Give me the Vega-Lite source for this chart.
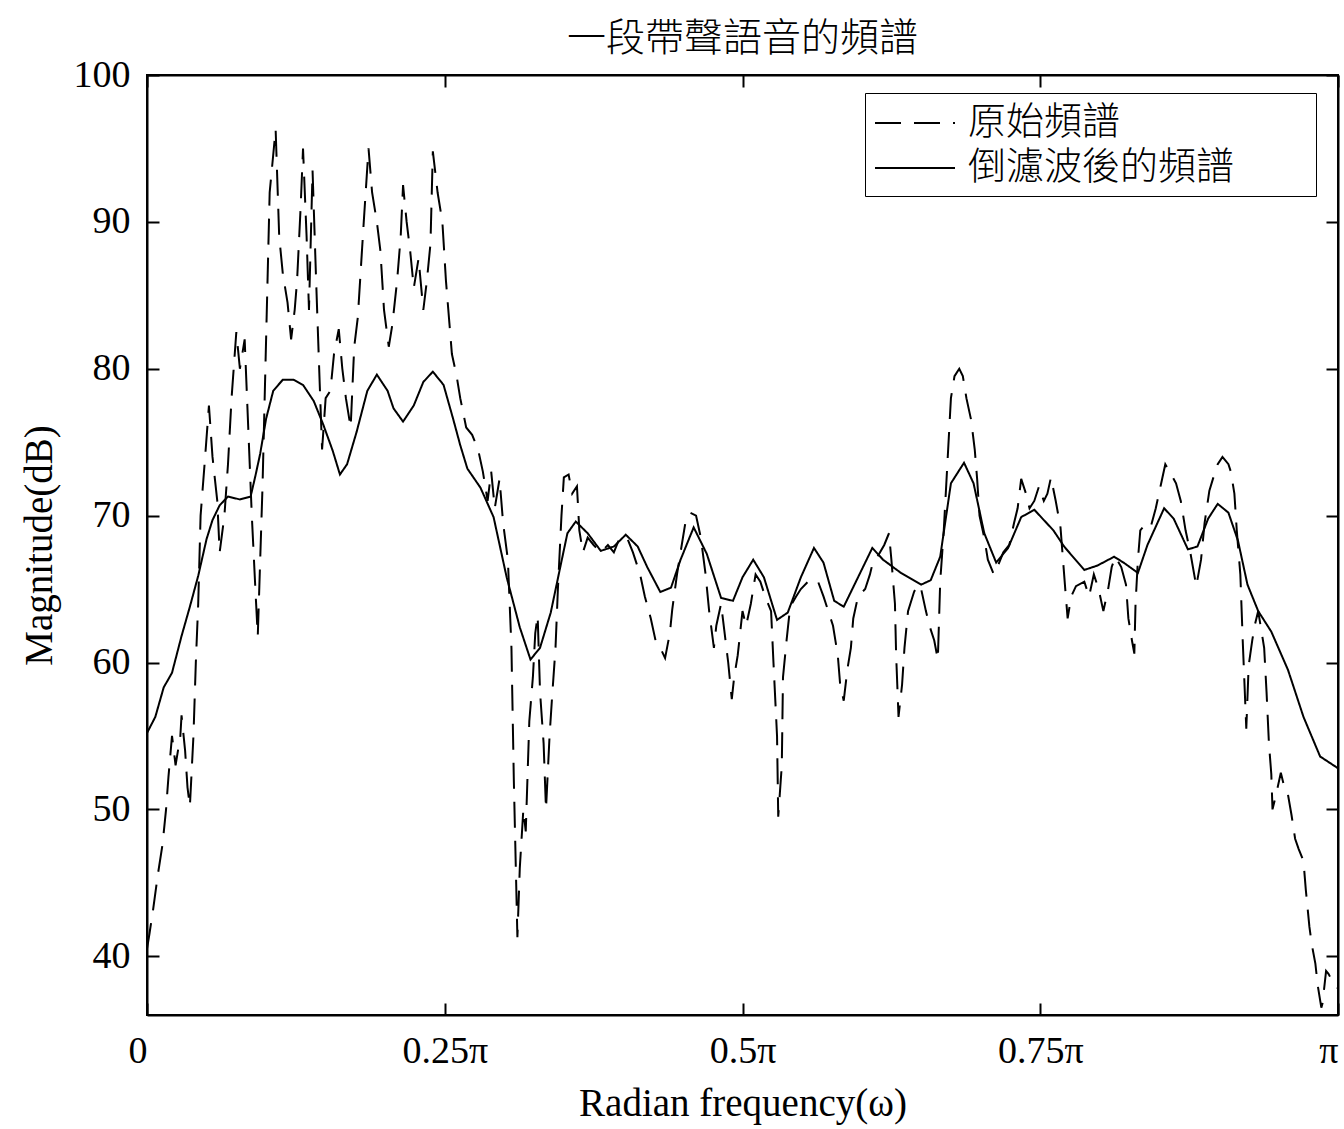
{
  "$schema": "https://vega.github.io/schema/vega-lite/v6.json",
  "autosize": "none",
  "width": 1191,
  "height": 940,
  "padding": {"left": 147, "top": 75, "right": 6, "bottom": 114},
  "background": "white",
  "config": {
    "view": {"stroke": "black", "strokeWidth": 2},
    "axis": {
      "domainColor": "black", "domainWidth": 2,
      "tickColor": "black", "tickWidth": 2, "tickSize": -12,
      "labelColor": "black", "labelFont": "Liberation Serif", "labelFontSize": 38,
      "titleColor": "black", "titleFont": "Liberation Serif", "titleFontSize": 39, "titleFontWeight": "normal",
      "grid": false
    },
    "title": {"font": "Noto Sans CJK TC", "fontSize": 39, "fontWeight": 300, "color": "black", "offset": -3}
  },
  "title": {"text": "一段帶聲語音的頻譜", "anchor": "middle"},
  "datasets": {
    "orig": [
      {"w":0.000,"db":40.5},{"w":0.002,"db":41.5},{"w":0.005,"db":43.1},{"w":0.009,"db":45.5},{"w":0.013,"db":47.6},{"w":0.016,"db":50},{"w":0.018,"db":52.2},{"w":0.021,"db":55},{"w":0.024,"db":53},{"w":0.028,"db":55},{"w":0.029,"db":56.4},{"w":0.032,"db":54},{"w":0.034,"db":51.5},{"w":0.036,"db":50.2},{"w":0.039,"db":55},{"w":0.041,"db":60},{"w":0.043,"db":64},{"w":0.045,"db":70},{"w":0.049,"db":74.2},{"w":0.052,"db":77.5},{"w":0.055,"db":74},{"w":0.059,"db":71},{"w":0.061,"db":67.5},{"w":0.065,"db":70},{"w":0.068,"db":73.5},{"w":0.071,"db":78},{"w":0.075,"db":82.5},{"w":0.078,"db":80},{"w":0.082,"db":82},{"w":0.085,"db":76},{"w":0.088,"db":70},{"w":0.091,"db":65},{"w":0.093,"db":61.8},{"w":0.097,"db":72},{"w":0.100,"db":82},
      {"w":0.103,"db":92},{"w":0.108,"db":96.3},{"w":0.111,"db":89},{"w":0.114,"db":86.5},{"w":0.118,"db":84.5},{"w":0.121,"db":82},{"w":0.124,"db":84},{"w":0.126,"db":86},{"w":0.129,"db":91},{"w":0.131,"db":95},{"w":0.134,"db":89},{"w":0.136,"db":84},{"w":0.139,"db":93.5},{"w":0.142,"db":86},{"w":0.145,"db":79},{"w":0.147,"db":74.5},{"w":0.150,"db":78},{"w":0.154,"db":78.5},{"w":0.157,"db":81},{"w":0.161,"db":82.7},{"w":0.164,"db":80},{"w":0.167,"db":78},{"w":0.171,"db":76},{"w":0.174,"db":81.5},{"w":0.177,"db":83.5},{"w":0.182,"db":90},{"w":0.186,"db":95},{"w":0.189,"db":92},{"w":0.193,"db":90},{"w":0.196,"db":88},{"w":0.199,"db":84},{"w":0.203,"db":81.5},{"w":0.206,"db":83},{"w":0.210,"db":86},{"w":0.213,"db":89},{"w":0.215,"db":92.5},{"w":0.218,"db":90},{"w":0.221,"db":88},{"w":0.224,"db":85.5},{"w":0.228,"db":87.5},{"w":0.232,"db":84},{"w":0.235,"db":86},{"w":0.238,"db":88.5},{"w":0.240,"db":94.8},{"w":0.244,"db":92},{"w":0.248,"db":90},{"w":0.251,"db":86},{"w":0.254,"db":83},{"w":0.256,"db":81},{"w":0.260,"db":79.5},{"w":0.263,"db":78},
      {"w":0.268,"db":76},{"w":0.273,"db":75.5},{"w":0.278,"db":74.5},{"w":0.282,"db":73},{"w":0.286,"db":71},{"w":0.289,"db":73},{"w":0.292,"db":70.5},{"w":0.296,"db":72.5},{"w":0.299,"db":69.5},{"w":0.303,"db":67},{"w":0.306,"db":61},{"w":0.308,"db":52},{"w":0.311,"db":41.3},{"w":0.313,"db":46},{"w":0.316,"db":50},{"w":0.318,"db":48.5},{"w":0.321,"db":56},{"w":0.324,"db":59},{"w":0.326,"db":62},{"w":0.328,"db":63.2},{"w":0.330,"db":58},{"w":0.333,"db":54.5},{"w":0.335,"db":50},{"w":0.338,"db":55},{"w":0.340,"db":57.5},{"w":0.343,"db":61},{"w":0.345,"db":65},{"w":0.348,"db":70},{"w":0.350,"db":72.6},{"w":0.354,"db":72.8},{"w":0.357,"db":71.5},{"w":0.361,"db":72},{"w":0.363,"db":69},{"w":0.366,"db":67.5},{"w":0.370,"db":68.5},{"w":0.375,"db":68},{"w":0.381,"db":67.5},{"w":0.387,"db":68},{"w":0.392,"db":67.5},{"w":0.397,"db":68.5},{"w":0.403,"db":68.5},{"w":0.408,"db":67.5},{"w":0.414,"db":66},{"w":0.418,"db":64.5},{"w":0.423,"db":63},{"w":0.427,"db":61.5},{"w":0.431,"db":61},{"w":0.435,"db":60.3},{"w":0.439,"db":62},{"w":0.441,"db":63.6},{"w":0.445,"db":66},{"w":0.448,"db":67.5},{"w":0.452,"db":69.5},{"w":0.456,"db":70.2},{"w":0.461,"db":70},{"w":0.465,"db":68.5},{"w":0.469,"db":66},{"w":0.472,"db":63.5},{"w":0.476,"db":61},{"w":0.478,"db":62.5},{"w":0.482,"db":64},{"w":0.485,"db":62},{"w":0.488,"db":60},{"w":0.491,"db":57.5},{"w":0.493,"db":59},{"w":0.496,"db":60.5},{"w":0.500,"db":63.5},
      {"w":0.503,"db":62.5},{"w":0.507,"db":64},{"w":0.511,"db":66},{"w":0.515,"db":65.5},{"w":0.519,"db":64.5},{"w":0.524,"db":63.5},{"w":0.526,"db":60},{"w":0.529,"db":55},{"w":0.530,"db":49.5},{"w":0.533,"db":53},{"w":0.534,"db":59},{"w":0.537,"db":61.5},{"w":0.540,"db":63.8},{"w":0.545,"db":64.5},{"w":0.549,"db":65},{"w":0.555,"db":65.5},{"w":0.559,"db":65.5},{"w":0.563,"db":65.6},{"w":0.568,"db":64.5},{"w":0.572,"db":63.5},{"w":0.576,"db":62.5},{"w":0.580,"db":60.5},{"w":0.582,"db":58.5},{"w":0.585,"db":57.4},{"w":0.588,"db":59.5},{"w":0.591,"db":61},{"w":0.593,"db":63},{"w":0.597,"db":64.5},{"w":0.603,"db":65},{"w":0.607,"db":66},{"w":0.610,"db":67},{"w":0.614,"db":67.3},{"w":0.619,"db":68},{"w":0.623,"db":68.8},{"w":0.625,"db":67},{"w":0.628,"db":64},{"w":0.629,"db":60.5},{"w":0.631,"db":56.3},{"w":0.634,"db":58.5},{"w":0.636,"db":61},{"w":0.639,"db":63.5},{"w":0.644,"db":64.8},{"w":0.647,"db":65.3},{"w":0.650,"db":65},{"w":0.654,"db":63.5},{"w":0.657,"db":62.5},{"w":0.661,"db":61.5},{"w":0.664,"db":60.2},{"w":0.666,"db":65.5},{"w":0.669,"db":69},{"w":0.672,"db":73.5},{"w":0.675,"db":78},{"w":0.678,"db":79.5},{"w":0.682,"db":80},{"w":0.685,"db":79.5},{"w":0.688,"db":78},{"w":0.692,"db":76.5},{"w":0.695,"db":74.5},{"w":0.697,"db":72.5},{"w":0.699,"db":70},{"w":0.703,"db":68.5},{"w":0.706,"db":67},{"w":0.711,"db":66},{"w":0.714,"db":66.5},{"w":0.719,"db":67.5},{"w":0.724,"db":68},{"w":0.728,"db":69.5},{"w":0.731,"db":70.5},{"w":0.734,"db":72.5},{"w":0.738,"db":71.5},{"w":0.741,"db":70.5},{"w":0.745,"db":71},{"w":0.749,"db":72},{"w":0.753,"db":71},{"w":0.756,"db":71.5},{"w":0.759,"db":72.6},
      {"w":0.763,"db":71},{"w":0.767,"db":69.2},{"w":0.771,"db":65},{"w":0.773,"db":63},{"w":0.776,"db":64.5},{"w":0.780,"db":65.2},{"w":0.787,"db":65.5},{"w":0.791,"db":64.5},{"w":0.795,"db":66},{"w":0.799,"db":65},{"w":0.803,"db":63.5},{"w":0.807,"db":65},{"w":0.810,"db":66.5},{"w":0.813,"db":67.2},{"w":0.818,"db":66.5},{"w":0.822,"db":65.3},{"w":0.824,"db":63},{"w":0.827,"db":61.5},{"w":0.829,"db":60.6},{"w":0.830,"db":64},{"w":0.832,"db":67},{"w":0.834,"db":69},{"w":0.839,"db":69.5},{"w":0.843,"db":69.3},{"w":0.847,"db":70.5},{"w":0.851,"db":72},{"w":0.855,"db":73.5},{"w":0.860,"db":72.8},{"w":0.864,"db":72.2},{"w":0.868,"db":71},{"w":0.872,"db":69},{"w":0.876,"db":67.5},{"w":0.881,"db":65.2},{"w":0.885,"db":67},{"w":0.888,"db":69.5},{"w":0.892,"db":71.7},{"w":0.895,"db":72.5},{"w":0.899,"db":73.5},{"w":0.903,"db":74},{"w":0.908,"db":73.5},{"w":0.910,"db":73},{"w":0.913,"db":71.5},{"w":0.915,"db":69},{"w":0.918,"db":66},{"w":0.920,"db":61.5},{"w":0.923,"db":55.5},{"w":0.925,"db":59.8},{"w":0.928,"db":61.5},{"w":0.930,"db":62.5},{"w":0.933,"db":63.5},{"w":0.935,"db":62.5},{"w":0.938,"db":61},{"w":0.940,"db":58},{"w":0.942,"db":54.5},{"w":0.944,"db":52.4},{"w":0.945,"db":50},{"w":0.948,"db":51},{"w":0.952,"db":52.5},{"w":0.955,"db":51.5},{"w":0.958,"db":51},{"w":0.961,"db":49.6},{"w":0.964,"db":48},{"w":0.967,"db":47.3},{"w":0.971,"db":46.5},{"w":0.973,"db":44.5},{"w":0.976,"db":42},{"w":0.978,"db":40.8},{"w":0.981,"db":39.5},{"w":0.983,"db":38},{"w":0.986,"db":36.5},{"w":0.987,"db":36.8},{"w":0.990,"db":39},{"w":0.992,"db":38.8},{"w":0.996,"db":38.2},{"w":1.000,"db":37.8}
    ],
    "filt": [
      {"w":0.000,"db":55.2},{"w":0.007,"db":56.3},{"w":0.014,"db":58.3},{"w":0.021,"db":59.3},{"w":0.029,"db":61.8},{"w":0.036,"db":63.8},{"w":0.043,"db":65.9},{"w":0.050,"db":68.4},{"w":0.055,"db":69.7},{"w":0.061,"db":70.7},{"w":0.068,"db":71.3},{"w":0.078,"db":71.1},{"w":0.087,"db":71.3},{"w":0.091,"db":72.7},{"w":0.095,"db":74.2},{"w":0.100,"db":76.6},{"w":0.106,"db":78.5},{"w":0.114,"db":79.25},{"w":0.123,"db":79.25},{"w":0.131,"db":78.9},{"w":0.140,"db":77.8},{"w":0.148,"db":76.2},{"w":0.156,"db":74.4},{"w":0.162,"db":72.8},{"w":0.168,"db":73.5},{"w":0.176,"db":75.7},{"w":0.185,"db":78.5},{"w":0.193,"db":79.6},{"w":0.202,"db":78.5},{"w":0.207,"db":77.3},{"w":0.215,"db":76.4},{"w":0.224,"db":77.5},{"w":0.232,"db":79.1},{"w":0.240,"db":79.8},{"w":0.249,"db":78.9},{"w":0.257,"db":76.6},{"w":0.263,"db":74.8},{"w":0.269,"db":73.2},{"w":0.280,"db":71.9},{"w":0.291,"db":69.9},{"w":0.302,"db":65.8},{"w":0.313,"db":62.4},{"w":0.322,"db":60.2},{"w":0.330,"db":61.0},{"w":0.339,"db":63.4},{"w":0.347,"db":66.5},{"w":0.353,"db":68.8},{"w":0.360,"db":69.6},{"w":0.370,"db":68.8},{"w":0.381,"db":67.6},{"w":0.392,"db":67.9},{"w":0.402,"db":68.7},{"w":0.412,"db":67.9},{"w":0.420,"db":66.5},{"w":0.431,"db":64.8},{"w":0.440,"db":65.1},{"w":0.448,"db":67.0},{"w":0.459,"db":69.2},{"w":0.470,"db":67.4},{"w":0.482,"db":64.4},{"w":0.492,"db":64.2},{"w":0.500,"db":65.8},{"w":0.509,"db":67.0},{"w":0.518,"db":65.8},{"w":0.529,"db":62.9},{"w":0.538,"db":63.4},{"w":0.549,"db":65.8},{"w":0.560,"db":67.8},{"w":0.568,"db":66.8},{"w":0.577,"db":64.2},{"w":0.585,"db":63.8},{"w":0.597,"db":65.8},{"w":0.609,"db":67.8},{"w":0.618,"db":67.0},{"w":0.633,"db":66.1},{"w":0.650,"db":65.3},{"w":0.658,"db":65.6},{"w":0.666,"db":67.2},{"w":0.675,"db":72.2},{"w":0.686,"db":73.6},{"w":0.694,"db":72.2},{"w":0.703,"db":68.8},{"w":0.713,"db":66.8},{"w":0.723,"db":67.8},{"w":0.734,"db":69.9},{"w":0.745,"db":70.4},{"w":0.761,"db":69.0},{"w":0.770,"db":67.9},{"w":0.787,"db":66.3},{"w":0.798,"db":66.6},{"w":0.812,"db":67.2},{"w":0.820,"db":66.8},{"w":0.832,"db":66.1},{"w":0.840,"db":68.0},{"w":0.854,"db":70.5},{"w":0.862,"db":69.8},{"w":0.874,"db":67.7},{"w":0.882,"db":67.9},{"w":0.891,"db":69.8},{"w":0.899,"db":70.8},{"w":0.908,"db":70.2},{"w":0.916,"db":68.3},{"w":0.924,"db":65.3},{"w":0.933,"db":63.5},{"w":0.944,"db":62.1},{"w":0.958,"db":59.5},{"w":0.971,"db":56.3},{"w":0.985,"db":53.6},{"w":1.000,"db":52.8}
    ]
  },
  "layer": [
    {
      "data": {"name": "orig"},
      "transform": [{"calculate": "'原始頻譜'", "as": "series"}],
      "mark": {"type": "line", "color": "black", "strokeWidth": 2, "clip": true},
      "encoding": {
        "x": {"field": "w", "type": "quantitative",
              "scale": {"domain": [0, 1], "nice": false, "zero": false},
              "axis": {"orient": "bottom", "values": [0, 0.25, 0.5, 0.75, 1], "labelPadding": 29, "labelFlush": false,
                       "labelAlign": {"condition": {"test": "datum.value == 0 || datum.value == 1", "value": "right"}, "value": "center"},
                       "title": "Radian frequency(ω)", "titlePadding": 14,
                       "labelExpr": "datum.value == 0 ? '0' : (datum.value == 1 ? 'π' : datum.value + 'π')"}},
        "y": {"field": "db", "type": "quantitative",
              "scale": {"domain": [36, 100], "nice": false, "zero": false},
              "axis": {"orient": "left", "values": [40, 50, 60, 70, 80, 90, 100], "labelPadding": 29, "title": "Magnitude(dB)", "titlePadding": 14}},
        "strokeDash": {"field": "series", "type": "nominal",
                       "scale": {"domain": ["原始頻譜", "倒濾波後的頻譜"], "range": [[26, 13], [1, 0]]},
                       "legend": {"title": null, "orient": "none", "legendX": 718, "legendY": 18,
                                  "symbolType": "M-3,0H1", "symbolSize": 1600, "symbolOffset": 40, "symbolStrokeWidth": 2, "symbolStrokeColor": "black", "symbolFillColor": "transparent",
                                  "labelFont": "Noto Sans CJK TC", "labelFontSize": 38, "labelFontWeight": 300, "labelColor": "black", "labelOffset": 12,
                                  "labelExpr": "datum.label + '\u00a0\u00a0\u2800\u2800'",
                                  "rowPadding": 5, "padding": 9, "strokeColor": "black", "fillColor": "white", "labelLimit": 600}}
      }
    },
    {
      "data": {"name": "filt"},
      "transform": [{"calculate": "'倒濾波後的頻譜'", "as": "series"}],
      "mark": {"type": "line", "color": "black", "strokeWidth": 2, "clip": true},
      "encoding": {
        "x": {"field": "w", "type": "quantitative",
              "axis": {"orient": "top", "values": [0, 0.25, 0.5, 0.75, 1], "labels": false, "title": null}},
        "y": {"field": "db", "type": "quantitative",
              "axis": {"orient": "right", "values": [40, 50, 60, 70, 80, 90, 100], "labels": false, "title": null}},
        "strokeDash": {"field": "series", "type": "nominal"}
      }
    }
  ],
  "resolve": {"axis": {"x": "independent", "y": "independent"}}
}
